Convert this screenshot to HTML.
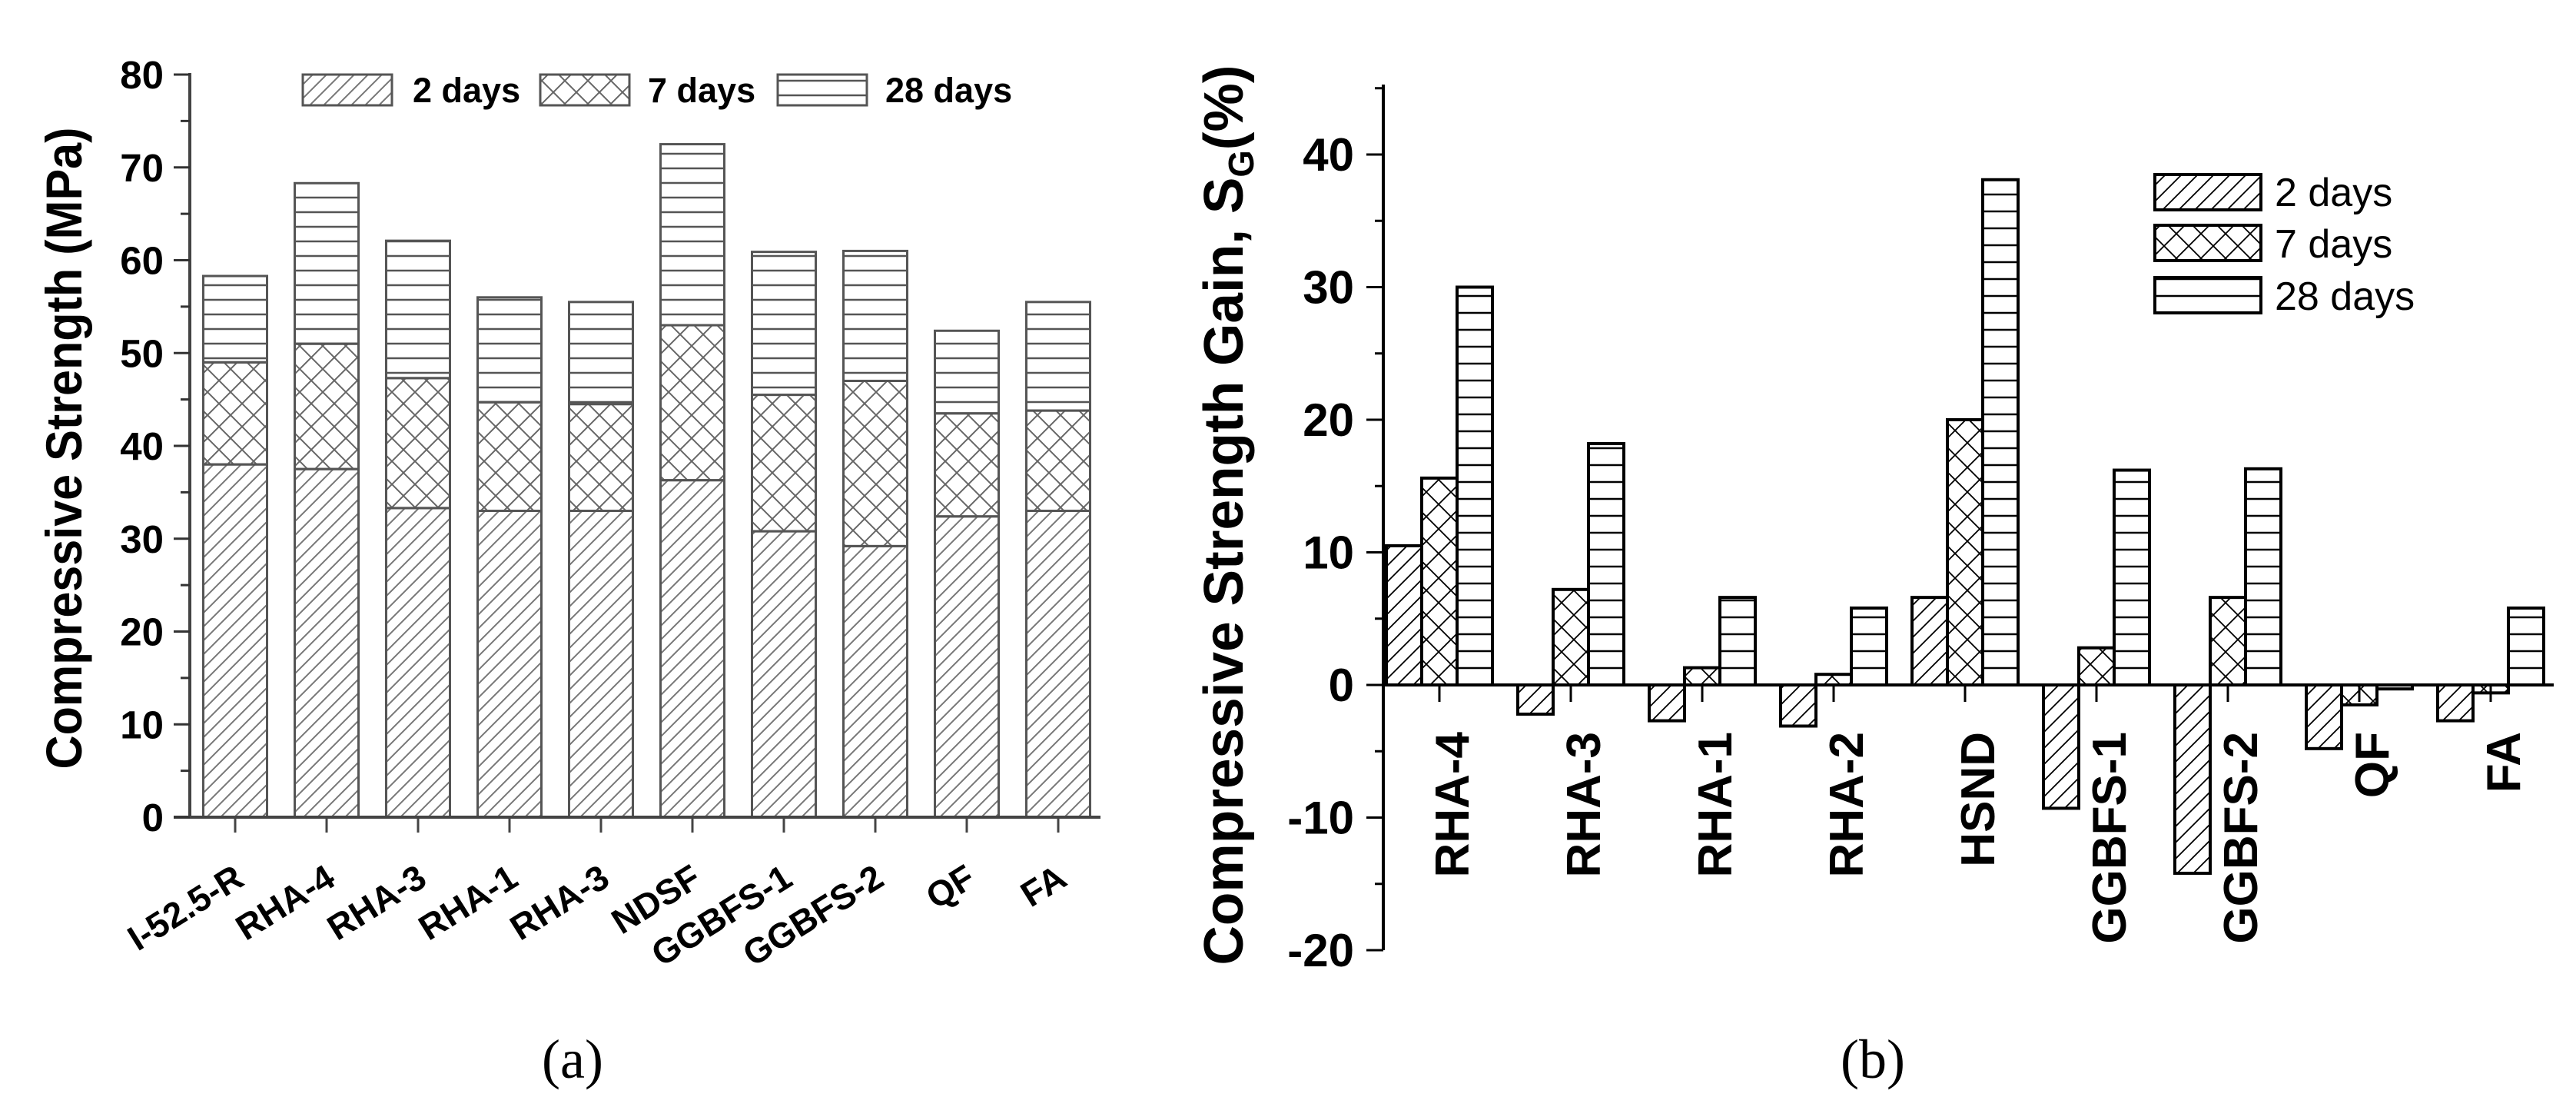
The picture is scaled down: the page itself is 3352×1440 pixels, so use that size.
<!DOCTYPE html>
<html><head><meta charset="utf-8"><style>
html,body{margin:0;padding:0;background:#fff;}
svg{display:block;font-family:"Liberation Sans",Arial,sans-serif;}
</style></head><body>
<svg id="fig" xmlns="http://www.w3.org/2000/svg" width="3352" height="1440" viewBox="0 0 3352 1440">
<defs>
<pattern id="aDiag" patternUnits="userSpaceOnUse" width="18" height="18"><path d="M-4,22 L22,-4 M-4,4 L4,-4 M14,22 L22,14" stroke="#777" stroke-width="2"/></pattern>
<pattern id="aCross" patternUnits="userSpaceOnUse" width="30" height="30"><path d="M0,0 L30,30 M30,0 L0,30" stroke="#666" stroke-width="2"/></pattern>
<pattern id="aHor" patternUnits="userSpaceOnUse" width="20" height="19"><path d="M0,10 L20,10" stroke="#555" stroke-width="2.5"/></pattern>
<pattern id="bDiag" patternUnits="userSpaceOnUse" width="21" height="21"><path d="M-4,25 L25,-4 M-4,4 L4,-4 M17,25 L25,17" stroke="#000" stroke-width="1.8"/></pattern>
<pattern id="bCross" patternUnits="userSpaceOnUse" width="32" height="32"><path d="M0,0 L32,32 M32,0 L0,32" stroke="#000" stroke-width="1.8"/></pattern>
<pattern id="bHor" patternUnits="userSpaceOnUse" width="20" height="22"><path d="M0,11 L20,11" stroke="#000" stroke-width="2.5"/></pattern>
</defs>
<g id="chartA"></g>
<g id="chartB"></g>
<text x="745" y="1402" text-anchor="middle" font-family="Liberation Serif,serif" font-size="72">(a)</text>
<text x="2437" y="1402" text-anchor="middle" font-family="Liberation Serif,serif" font-size="72">(b)</text>
</svg>
<script>
const catsA = ["I-52.5-R","RHA-4","RHA-3","RHA-1","RHA-3","NDSF","GGBFS-1","GGBFS-2","QF","FA"];
const a2 = [38, 37.5, 33.3, 33, 33, 36.3, 30.8, 29.2, 32.4, 33];
const a7 = [49, 51, 47.3, 44.7, 44.5, 53, 45.5, 47, 43.5, 43.8];
const a28 = [58.3, 68.3, 62.1, 56, 55.5, 72.5, 60.9, 61, 52.4, 55.5];
const ticksA = [0,10,20,30,40,50,60,70,80];

const catsB = ["RHA-4","RHA-3","RHA-1","RHA-2","HSND","GGBFS-1","GGBFS-2","QF","FA"];
const b2 = [10.5, -2.2, -2.7, -3.1, 6.6, -9.3, -14.2, -4.8, -2.7];
const b7 = [15.6, 7.2, 1.3, 0.8, 20, 2.8, 6.6, -1.5, -0.6];
const b28 = [30, 18.2, 6.6, 5.8, 38.1, 16.2, 16.3, -0.3, 5.8];
const ticksB = [-20,-10,0,10,20,30,40];

const NS="http://www.w3.org/2000/svg";
function mk(parent,tag,attrs,text){const e=document.createElementNS(NS,tag);for(const k in attrs)e.setAttribute(k,attrs[k]);if(text!==undefined)e.textContent=text;parent.appendChild(e);return e;}

// ---- Chart A ----
const gA=document.getElementById('chartA');
const yA=v=>1063-v*(1063-97)/80;
const xA=i=>306+i*119;
const bwA=83;
for(let i=0;i<catsA.length;i++){
  const segs=[[0,a2[i],'aDiag','2d'],[a2[i],a7[i],'aCross','7d'],[a7[i],a28[i],'aHor','28d']];
  for(const s of segs){
    const r=mk(gA,'rect',{x:xA(i)-bwA/2,y:yA(s[1]),width:bwA,height:yA(s[0])-yA(s[1]),fill:'url(#'+s[2]+')',stroke:'#555','stroke-width':3});
    
    
  }
  const t=mk(gA,'line',{x1:xA(i),y1:1063,x2:xA(i),y2:1083,stroke:'#444','stroke-width':3});
  
  
  const lx=xA(i)+14, ly=1150;
  const l=mk(gA,'text',{x:lx,y:ly,'text-anchor':'end','font-size':46,'font-weight':'bold',transform:'rotate(-32 '+lx+' '+ly+')'},catsA[i]);
  
  
}
mk(gA,'line',{x1:247,y1:95,x2:247,y2:1065,stroke:'#444','stroke-width':4,});
mk(gA,'line',{x1:226,y1:1063,x2:1432,y2:1063,stroke:'#444','stroke-width':4,});
for(let v=0;v<=80;v+=5){
  const major=v%10===0;
  const t=mk(gA,'line',{x1:major?226:235,y1:yA(v),x2:247,y2:yA(v),stroke:'#333','stroke-width':3});
  
  
}
for(const v of ticksA){
  const t=mk(gA,'text',{x:213,y:yA(v)+18,'text-anchor':'end','font-size':51,'font-weight':'bold'},String(v));
  
  
}
mk(gA,'text',{x:106,y:583,'text-anchor':'middle','font-size':66,'font-weight':'bold',textLength:835,lengthAdjust:'spacingAndGlyphs',transform:'rotate(-90 106 583)',},'Compressive Strength (MPa)');
const legA=[[394,537,'aDiag','2 days'],[703,843,'aCross','7 days'],[1012,1152,'aHor','28 days']];
for(const L of legA){
  const r=mk(gA,'rect',{x:L[0],y:97,width:116,height:40,fill:'url(#'+L[2]+')',stroke:'#555','stroke-width':3});
  
  
  const t=mk(gA,'text',{x:L[1],y:133,'font-size':45,'font-weight':'bold'},L[3]);
  
  
}

// ---- Chart B ----
const gB=document.getElementById('chartB');
const yB=v=>891-v*17.25;
const xB=i=>1873+i*171;
const bwB=46;
for(let i=0;i<catsB.length;i++){
  const sers=[[b2[i],-1,'bDiag','2d'],[b7[i],0,'bCross','7d'],[b28[i],1,'bHor','28d']];
  for(const s of sers){
    const y0=Math.min(yB(0),yB(s[0])), h=Math.abs(yB(s[0])-yB(0));
    const r=mk(gB,'rect',{x:xB(i)+s[1]*bwB-bwB/2,y:y0,width:bwB,height:h,fill:'url(#'+s[2]+')',stroke:'#000','stroke-width':4});
    
    
  }
  const t=mk(gB,'line',{x1:xB(i),y1:891,x2:xB(i),y2:913,stroke:'#000','stroke-width':3});
  
  
  const lx=xB(i)+38, ly=952;
  const l=mk(gB,'text',{x:lx,y:ly,'text-anchor':'end','font-size':62,'font-weight':'bold',transform:'rotate(-90 '+lx+' '+ly+')'},catsB[i]);
  
  
}
mk(gB,'line',{x1:1800,y1:110,x2:1800,y2:1236,stroke:'#000','stroke-width':4,});
mk(gB,'line',{x1:1800,y1:891,x2:3323,y2:891,stroke:'#000','stroke-width':4,});
for(let v=-20;v<=45;v+=5){
  const major=v%10===0;
  const t=mk(gB,'line',{x1:major?1778:1789,y1:yB(v),x2:1800,y2:yB(v),stroke:'#000','stroke-width':3});
  
  
}
for(const v of ticksB){
  const t=mk(gB,'text',{x:1762,y:yB(v)+21,'text-anchor':'end','font-size':60,'font-weight':'bold'},String(v));
  
  
}
const tb=mk(gB,'text',{x:1617,y:670,'text-anchor':'middle','font-size':72,'font-weight':'bold',textLength:1171,lengthAdjust:'spacingAndGlyphs',transform:'rotate(-90 1617 670)',},'Compressive Strength Gain, S');
const sub=mk(tb,'tspan',{'font-size':46,dy:14},'G');


const rest=mk(tb,'tspan',{dy:-14},'(%)');


const legB=[[227,268,'bDiag','2 days'],[293,335,'bCross','7 days'],[361,403,'bHor','28 days']];
for(const L of legB){
  const r=mk(gB,'rect',{x:2804,y:L[0],width:138,height:46,fill:'url(#'+L[2]+')',stroke:'#000','stroke-width':4});
  
  
  const t=mk(gB,'text',{x:2960,y:L[1],'font-size':52},L[3]);
  
  
}
</script>
</body></html>
